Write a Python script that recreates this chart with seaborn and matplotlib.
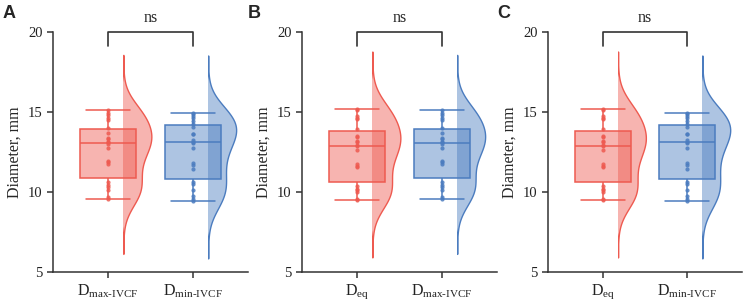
import numpy as np
import pandas as pd
import matplotlib

matplotlib.use('Agg')
import matplotlib.pyplot as plt
import matplotlib.transforms as mtransforms
from matplotlib.patches import Rectangle
from matplotlib.colors import to_rgba
import seaborn as sns

sns.set_theme(style="ticks")
plt.rcParams['font.family'] = ['Liberation Serif', 'DejaVu Serif']
plt.rcParams['mathtext.fontset'] = 'custom'
plt.rcParams['mathtext.rm'] = 'Liberation Serif'
plt.rcParams['mathtext.it'] = 'Liberation Serif:italic'
plt.rcParams['mathtext.bf'] = 'Liberation Serif:bold'

# ---- data (mm) ----
d_max_ivcf = [9.55, 9.7, 10.15, 10.3, 10.45, 10.6, 11.75, 11.85, 11.95, 12.75, 13.0,
              13.1, 13.15, 13.3, 13.35, 13.7, 14.0, 14.5, 14.65, 14.8, 14.95, 15.15]
d_min_ivcf = [9.42, 9.55, 9.75, 10.15, 10.5, 10.6, 11.45, 11.7, 11.8, 12.75, 13.05,
              13.15, 13.25, 13.6, 13.65, 14.05, 14.25, 14.45, 14.6, 14.75, 14.85, 14.96]
d_eq = [9.48, 9.55, 10.0, 10.1, 10.2, 10.35, 11.55, 11.65, 11.75, 12.6, 12.85,
        12.95, 13.1, 13.2, 13.45, 13.5, 13.95, 14.55, 14.65, 14.75, 15.1, 15.21]

groups = {"Dmax": d_max_ivcf, "Dmin": d_min_ivcf, "Deq": d_eq}
tick_labels = {"Dmax": r"D$_{\text{max-IVCF}}$",
               "Dmin": r"D$_{\text{min-IVCF}}$",
               "Deq": r"D$_{\text{eq}}$"}
panels = [("A", "Dmax", "Dmin"), ("B", "Deq", "Dmax"), ("C", "Deq", "Dmin")]
sig_label = "ns"

red = "#EE5A50"
blue = "#4B7CBF"

fig = plt.figure(figsize=(7.45, 3.03), dpi=100)
rects = [[53 / 745, 31 / 303, 195 / 745, 240 / 303],
         [302 / 745, 31 / 303, 195 / 745, 240 / 303],
         [548 / 745, 31 / 303, 194 / 745, 240 / 303]]
letter_x = [0.003, 0.332, 0.667]

for (letter, left, right), rect, lx in zip(panels, rects, letter_x):
    ax = fig.add_axes(rect)
    cats = [left, right]
    for i, (cat, col) in enumerate(zip(cats, [red, blue])):
        sub = pd.DataFrame({"group": cat, "value": groups[cat]})

        # half violin, shifted to the right of the box
        n0 = len(ax.collections)
        sns.violinplot(data=sub, x="group", y="value", order=cats, color=col,
                       linecolor=col, width=0.66, cut=3.5, inner=None,
                       linewidth=1.0, ax=ax)
        for coll in ax.collections[n0:]:
            coll.set_facecolor(to_rgba(col, 0.45))
            coll.set_edgecolor(col)
            coll.set_transform(mtransforms.Affine2D().translate(0.18, 0) + ax.transData)
            clip = Rectangle((i + 0.18, 0), 1, 40, transform=ax.transData)
            coll.set_clip_path(clip)

        # box
        n0p = len(ax.patches)
        sns.boxplot(data=sub, x="group", y="value", order=cats, color=col,
                    linecolor=col, width=0.66, whis=(0, 100), showfliers=False,
                    linewidth=1.1, capwidths=0.52, ax=ax)
        for p in ax.patches[n0p:]:
            p.set_facecolor(to_rgba(col, 0.45))

        # points
        sns.stripplot(data=sub, x="group", y="value", order=cats, color=col,
                      jitter=False, size=3, alpha=0.85, linewidth=0, ax=ax, zorder=3)

    ax.set_xlim(-0.65, 1.65)
    ax.set_ylim(5, 20)
    ax.set_yticks([5, 10, 15, 20])
    ax.set_xticks([0, 1], labels=[tick_labels[c] for c in cats])
    ax.set_xlabel("")
    ax.set_ylabel("Diameter, mm", fontsize=11.5)
    sns.despine(ax=ax)
    for s in ["left", "bottom"]:
        ax.spines[s].set_color("#333333")
        ax.spines[s].set_linewidth(1.1)
    ax.tick_params(axis="both", length=4, width=1.1, color="#333333", labelsize=10.5,
                   labelcolor="#222222")
    ax.tick_params(axis="x", labelsize=11.5)

    # significance bracket
    ax.plot([0, 0, 1, 1], [19.15, 20, 20, 19.15], color="#333333", lw=1.2, clip_on=False)
    ax.text(0.5, 20.85, sig_label, ha="center", va="center", fontsize=11.5, clip_on=False)

    fig.text(lx, 0.985, letter, fontfamily="Liberation Sans", fontweight="bold",
             fontsize=13, va="top", ha="left")

fig.savefig("out.png", dpi=100)
